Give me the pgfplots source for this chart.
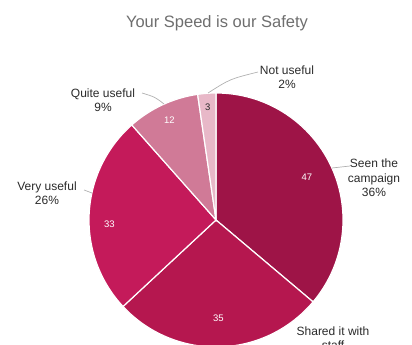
\documentclass[border=0pt]{standalone}
\usepackage{pgfplots}
\usepackage{pgfplotstable}
\pgfplotsset{compat=1.18}
\usepackage{fontspec}
\setmainfont{Liberation Sans}
\definecolor{cA}{HTML}{9E1447}
\definecolor{cB}{HTML}{B5174F}
\definecolor{cC}{HTML}{C41A5A}
\definecolor{cD}{HTML}{D07A97}
\definecolor{cE}{HTML}{E8B8C8}
\definecolor{lbl}{HTML}{2A2A2A}
\definecolor{ttl}{HTML}{6E6E6E}
\definecolor{lead}{HTML}{B0B0B0}
\pgfplotstableread{
idx value lr
0 47 0.79
1 35 0.77
2 33 0.84
3 12 0.87
4 3 0.89
}\piedata
\begin{document}%
\begin{tikzpicture}
\pgfplotstablegetelem{0}{value}\of\piedata\edef\vA{\pgfplotsretval}
\pgfplotstablegetelem{1}{value}\of\piedata\edef\vB{\pgfplotsretval}
\pgfplotstablegetelem{2}{value}\of\piedata\edef\vC{\pgfplotsretval}
\pgfplotstablegetelem{3}{value}\of\piedata\edef\vD{\pgfplotsretval}
\pgfplotstablegetelem{4}{value}\of\piedata\edef\vE{\pgfplotsretval}
\pgfplotstablegetelem{0}{lr}\of\piedata\edef\rA{\pgfplotsretval}
\pgfplotstablegetelem{1}{lr}\of\piedata\edef\rB{\pgfplotsretval}
\pgfplotstablegetelem{2}{lr}\of\piedata\edef\rC{\pgfplotsretval}
\pgfplotstablegetelem{3}{lr}\of\piedata\edef\rD{\pgfplotsretval}
\pgfplotstablegetelem{4}{lr}\of\piedata\edef\rE{\pgfplotsretval}
\pgfmathsetmacro\tot{\vA+\vB+\vC+\vD+\vE}
\pgfmathsetmacro\aA{90}
\pgfmathsetmacro\aB{\aA-\vA/\tot*360}
\pgfmathsetmacro\aC{\aB-\vB/\tot*360}
\pgfmathsetmacro\aD{\aC-\vC/\tot*360}
\pgfmathsetmacro\aE{\aD-\vD/\tot*360}
\pgfmathsetmacro\aF{\aE-\vE/\tot*360}
\pgfmathsetmacro\mA{(\aA+\aB)/2}
\pgfmathsetmacro\mB{(\aB+\aC)/2}
\pgfmathsetmacro\mC{(\aC+\aD)/2+5}
\pgfmathsetmacro\mD{(\aD+\aE)/2}
\pgfmathsetmacro\mE{(\aE+\aF)/2}
\pgfmathsetmacro\R{127}
\pgfmathsetmacro\dA{\rA*\R}
\pgfmathsetmacro\dB{\rB*\R}
\pgfmathsetmacro\dC{\rC*\R}
\pgfmathsetmacro\dD{\rD*\R}
\pgfmathsetmacro\dE{\rE*\R}
\begin{axis}[name=ax,x=1pt,y=1pt,xmin=0,xmax=412,ymin=0,ymax=345,hide axis,
  scale only axis,clip=false]
\fill[cA,draw=white,line width=1.2pt] (axis cs:216,125) -- ++(\aA:\R pt) arc[start angle=\aA,end angle=\aB,radius=\R pt] -- cycle;
\fill[cB,draw=white,line width=1.2pt] (axis cs:216,125) -- ++(\aB:\R pt) arc[start angle=\aB,end angle=\aC,radius=\R pt] -- cycle;
\fill[cC,draw=white,line width=1.2pt] (axis cs:216,125) -- ++(\aC:\R pt) arc[start angle=\aC,end angle=\aD,radius=\R pt] -- cycle;
\fill[cD,draw=white,line width=1.2pt] (axis cs:216,125) -- ++(\aD:\R pt) arc[start angle=\aD,end angle=\aE,radius=\R pt] -- cycle;
\fill[cE,draw=white,line width=1.2pt] (axis cs:216,125) -- ++(\aE:\R pt) arc[start angle=\aE,end angle=\aF,radius=\R pt] -- cycle;
\path[font=\fontsize{9.5}{10}\selectfont,text=white]
  (axis cs:216,125) ++(\mA:\dA pt) node {\vA}
  (axis cs:216,125) ++(\mB:\dB pt) node {\vB}
  (axis cs:216,125) ++(\mC:\dC pt) node {\vC}
  (axis cs:216,125) ++(\mD:\dD pt) node {\vD}
  (axis cs:216,125) ++(\mE:\dE pt) node[text=lbl] {\vE};
% leader lines
\draw[lead,line width=0.7pt] (axis cs:332,177) -- (axis cs:350,179);
\draw[lead,line width=0.7pt] (axis cs:92,152) -- (axis cs:84,155);
\draw[lead,line width=0.7pt] (axis cs:164,241) .. controls (axis cs:155,248) .. (axis cs:142,252);
\draw[lead,line width=0.7pt] (axis cs:208,252) .. controls (axis cs:230,266) .. (axis cs:258,273);
% outside labels
\path[font=\fontsize{12}{14.5}\selectfont,text=lbl,align=center]
  (axis cs:374,167) node {Seen the\\campaign\\36\%}
  (axis cs:333,22) node[anchor=north] {Shared it with\\staff}
  (axis cs:47,152) node {Very useful\\26\%}
  (axis cs:103,245) node {Quite useful\\9\%}
  (axis cs:287,268) node {Not useful\\2\%};
\node[font=\fontsize{16.5}{18}\selectfont,text=ttl] at (axis cs:217,322) {Your Speed is our Safety};
\end{axis}
\pgfresetboundingbox
\path[use as bounding box] (ax.south west) rectangle (ax.north east);
\end{tikzpicture}%
\end{document}
